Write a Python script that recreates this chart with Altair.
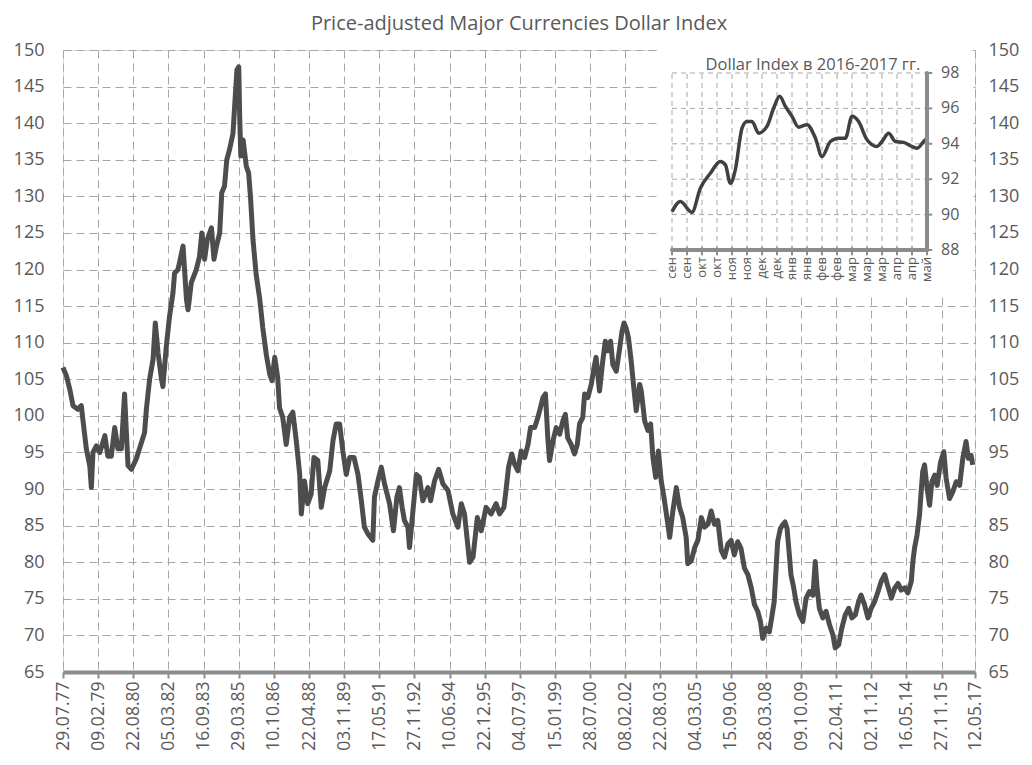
import altair as alt
import pandas as pd

# ---------------- data ----------------
title_text = "Price-adjusted Major Currencies Dollar Index"

years = [
    1977.57, 1977.72, 1977.87, 1978.01, 1978.22, 1978.37, 1978.44, 1978.59, 1978.74, 1978.81,
    1978.88, 1979.03, 1979.18, 1979.40, 1979.53, 1979.68, 1979.83, 1979.97, 1980.12, 1980.26,
    1980.34, 1980.41, 1980.56, 1980.77, 1980.91, 1981.13, 1981.21, 1981.35, 1981.50, 1981.60,
    1981.72, 1981.87, 1981.93, 1982.08, 1982.22, 1982.37, 1982.44, 1982.59, 1982.81, 1982.96,
    1983.03, 1983.17, 1983.39, 1983.53, 1983.63, 1983.75, 1983.87, 1984.05, 1984.16, 1984.27,
    1984.41, 1984.50, 1984.62, 1984.72, 1984.84, 1984.99, 1985.06, 1985.16, 1985.24, 1985.28,
    1985.33, 1985.43, 1985.57, 1985.67, 1985.75, 1985.86,
    1986.00, 1986.15, 1986.29, 1986.44, 1986.59, 1986.69, 1986.81, 1986.94, 1987.02, 1987.16,
    1987.31, 1987.46, 1987.60, 1987.75, 1987.90, 1987.97, 1988.11, 1988.25, 1988.40, 1988.52,
    1988.69, 1988.84, 1988.99, 1989.21, 1989.35, 1989.49, 1989.64, 1989.78, 1989.93, 1990.08,
    1990.27, 1990.44, 1990.59, 1990.72, 1990.87, 1991.09, 1991.16, 1991.31, 1991.46, 1991.60,
    1991.82, 1991.99, 1992.14, 1992.25, 1992.37, 1992.47, 1992.62, 1992.69, 1992.84, 1992.99,
    1993.12, 1993.27, 1993.49, 1993.61, 1993.78, 1993.96, 1994.15, 1994.37, 1994.58, 1994.80,
    1994.95, 1995.09, 1995.21, 1995.31, 1995.46, 1995.65, 1995.82, 1996.03, 1996.25,
    1996.47, 1996.62, 1996.81, 1996.90, 1997.01, 1997.15, 1997.27, 1997.42, 1997.56, 1997.71,
    1997.86, 1997.97, 1998.15, 1998.29, 1998.40, 1998.51, 1998.62, 1998.73, 1998.80, 1998.95,
    1999.09, 1999.24, 1999.38, 1999.49, 1999.59, 1999.74, 1999.89, 2000.01, 2000.11, 2000.25,
    2000.33, 2000.47, 2000.62, 2000.74, 2000.83, 2000.98, 2001.12, 2001.23, 2001.34, 2001.46,
    2001.56, 2001.71, 2001.86, 2001.96, 2002.05, 2002.14, 2002.24, 2002.36, 2002.46, 2002.58,
    2002.73, 2002.80, 2002.95, 2003.09, 2003.21, 2003.31, 2003.43, 2003.55, 2003.67, 2003.79,
    2003.96, 2004.04, 2004.18, 2004.33, 2004.47, 2004.61, 2004.76, 2004.83, 2004.98, 2005.13,
    2005.27, 2005.42, 2005.56, 2005.71, 2005.85, 2005.99, 2006.14, 2006.29, 2006.43, 2006.58,
    2006.72, 2006.86, 2007.01, 2007.15, 2007.30, 2007.45, 2007.60, 2007.74, 2007.88, 2008.00,
    2008.10, 2008.25, 2008.39, 2008.49, 2008.60, 2008.75, 2008.87, 2008.97, 2009.07, 2009.16,
    2009.26, 2009.33, 2009.45, 2009.55, 2009.70, 2009.85, 2009.99, 2010.14, 2010.29, 2010.39,
    2010.47, 2010.57, 2010.72, 2010.86, 2011.01, 2011.16, 2011.26, 2011.41, 2011.55, 2011.70,
    2011.85, 2011.99, 2012.14, 2012.28, 2012.39, 2012.54, 2012.69, 2012.83, 2012.98, 2013.13,
    2013.27, 2013.42, 2013.54, 2013.71, 2013.86, 2014.00, 2014.14, 2014.29, 2014.43, 2014.58,
    2014.65, 2014.72, 2014.83, 2014.94, 2015.01, 2015.08, 2015.16, 2015.27, 2015.38, 2015.48,
    2015.60, 2015.71, 2015.86, 2016.00, 2016.10, 2016.25, 2016.39, 2016.54, 2016.69, 2016.83,
    2016.97, 2017.07, 2017.19, 2017.26,
]

index_values = [
    106.6, 105.5, 103.6, 101.4, 100.9, 101.4, 99.5, 95.5, 93.2, 90.2,
    95.0, 95.9, 95.0, 97.3, 94.5, 94.5, 98.4, 95.5, 95.5, 103.0,
    97.7, 93.2, 92.7, 94.1, 95.5, 97.7, 100.9, 105.0, 107.7, 112.7,
    108.6, 105.0, 104.0, 109.5, 113.6, 116.8, 119.5, 120.0, 123.2, 115.9,
    114.5, 118.2, 120.0, 121.8, 125.0, 121.4, 124.1, 125.7, 121.4, 123.2,
    125.0, 130.5, 131.4, 135.0, 136.4, 138.6, 142.3, 147.3, 147.7, 140.9,
    135.5, 137.7, 134.1, 133.2, 130.0, 124.1,
    119.3, 116.1, 112.0, 108.4, 105.7, 104.8, 108.0, 105.2, 101.1, 99.8,
    96.1, 99.8, 100.5, 96.6, 92.0, 86.6, 91.1, 88.0, 89.3, 94.3,
    93.9, 87.5, 90.2, 92.5, 96.6, 98.9, 98.9, 95.2, 92.0, 94.3,
    94.3, 92.0, 88.4, 84.8, 83.9, 83.0, 88.9, 91.1, 93.0, 90.7,
    88.0, 84.3, 88.9, 90.2, 87.5, 85.7, 84.8, 82.0, 87.0, 92.0,
    91.6, 88.4, 90.2, 88.4, 91.1, 92.7, 90.7, 89.8, 86.6, 84.8,
    88.0, 86.6, 83.0, 80.0, 80.7, 86.1, 84.3, 87.5, 86.6,
    88.0, 86.6, 87.5, 89.8, 93.0, 94.8, 93.4, 92.5, 95.2, 94.3,
    96.1, 98.4, 98.4, 99.8, 101.1, 102.5, 103.0, 96.6, 93.9, 96.6,
    98.4, 97.5, 99.3, 100.2, 97.0, 96.1, 94.8, 96.1, 98.9, 99.8,
    103.0, 102.5, 104.3, 106.6, 108.0, 103.4, 107.5, 110.2, 108.9, 110.2,
    107.0, 106.1, 109.3, 111.6, 112.7, 112.0, 110.7, 107.5, 104.3, 100.7,
    104.3, 103.4, 99.3, 98.0, 98.9, 94.3, 91.6, 95.2, 91.1, 88.9,
    85.2, 83.4, 87.0, 90.2, 87.5, 86.1, 83.4, 79.8, 80.2, 82.0,
    83.0, 86.1, 84.8, 85.2, 87.0, 85.2, 85.7, 81.6, 80.7, 82.5,
    83.0, 81.0, 82.8, 81.9, 79.2, 78.3, 76.5, 74.2, 73.3, 71.9,
    69.6, 71.0, 70.5, 72.4, 74.6, 82.8, 84.6, 85.1, 85.5, 84.6,
    81.0, 78.3, 76.5, 74.6, 72.8, 71.9, 75.1, 76.0, 75.5, 80.1,
    76.5, 73.7, 72.4, 73.3, 71.5, 70.1, 68.3, 68.7, 71.0, 72.8,
    73.7, 72.4, 72.8, 74.6, 75.5, 74.2, 72.4, 73.7, 74.6, 76.0,
    77.4, 78.3, 76.9, 75.1, 76.5, 77.1, 76.2, 76.5, 75.8, 77.4,
    80.1, 81.9, 83.7, 86.5, 89.6, 92.4, 93.3, 90.1, 87.8, 91.0,
    91.9, 90.5, 93.7, 95.1, 91.5, 88.7, 89.6, 91.0, 90.5, 94.2,
    96.5, 94.2, 94.6, 93.3,
]

tick_labels = [
    "29.07.77", "09.02.79", "22.08.80", "05.03.82", "16.09.83", "29.03.85", "10.10.86",
    "22.04.88", "03.11.89", "17.05.91", "27.11.92", "10.06.94", "22.12.95", "04.07.97",
    "15.01.99", "28.07.00", "08.02.02", "22.08.03", "04.03.05", "15.09.06", "28.03.08",
    "09.10.09", "22.04.11", "02.11.12", "16.05.14", "27.11.15", "12.05.17",
]
y_ticks = list(range(65, 151, 5))

inset_title = "Dollar Index в 2016-2017 гг."
inset_labels = ["сен", "сен", "окт", "окт", "ноя", "ноя", "дек", "дек", "янв", "янв",
                "фев", "фев", "мар", "мар", "мар", "апр", "апр", "май"]
inset_pos = [0, 0.56, 1.33, 1.89, 2.56, 3.22, 3.56, 3.89, 4.22, 4.67, 5.0, 5.33, 5.78,
             6.33, 6.78, 7.18, 7.56, 8.0, 8.44, 9.0, 9.56, 10.0, 10.56, 11.11, 11.56,
             12.0, 12.44, 13.0, 13.67, 14.0, 14.44, 14.89, 15.44, 15.89, 16.33, 16.78, 17.0]
inset_vals = [90.17, 90.74, 90.13, 91.49, 92.34, 93.0, 92.81, 91.77, 92.53, 94.89, 95.26,
              95.26, 94.6, 94.98, 96.02, 96.68, 96.11, 95.55, 94.94, 95.08, 94.32, 93.28,
              94.13, 94.32, 94.32, 95.55, 95.26, 94.23, 93.85, 94.13, 94.6, 94.13, 94.08,
              93.89, 93.75, 94.13, 94.32]
inset_y_ticks = [88, 90, 92, 94, 96, 98]

# ---------------- build tables ----------------
def yr_to_ts(y):
    yi = int(y)
    return pd.Timestamp(yi, 1, 1) + pd.Timedelta(days=(y - yi) * 365.25)

main_df = pd.DataFrame({"date": [yr_to_ts(y) for y in years], "value": index_values})

def parse_label(s):
    d, m, yy = (int(p) for p in s.split("."))
    return alt.DateTime(year=(1900 + yy if yy > 50 else 2000 + yy), month=m, date=d)

tick_dt = [parse_label(s) for s in tick_labels]

n_lab = len(inset_labels)
inset_df = pd.DataFrame({"i": inset_pos, "v": inset_vals})
xlab_df = pd.DataFrame({"i": list(range(n_lab)), "lab": inset_labels})
ylab_df = pd.DataFrame({"v": inset_y_ticks, "lab": [str(v) for v in inset_y_ticks]})
hgrid_df = pd.DataFrame({"v": inset_y_ticks[1:]})
one = pd.DataFrame({"a": [0]})

FONT = "Open Sans"
TXT = "#595959"
AXC = "#8c8c8c"
GRID = "#a6a6a6"

W, H = 912, 622

x_scale = alt.Scale(domain=[tick_dt[0], tick_dt[-1]], nice=False)
y_scale = alt.Scale(domain=[65, 150], nice=False, zero=False)

x_axis = alt.Axis(
    values=tick_dt, labelExpr="timeFormat(datum.value, '%d.%m.%y')",
    labelAngle=270, labelAlign="right", labelBaseline="middle",
    labelFont=FONT, labelFontSize=17.5, labelColor=TXT, labelPadding=3,
    labelFlush=False, labelOverlap=False,
    tickSize=6, tickWidth=2, tickColor=AXC,
    domainColor=AXC, domainWidth=4,
    grid=True, gridDash=[8, 5], gridColor=GRID, gridWidth=1, title=None,
)
y_axis_left = alt.Axis(
    values=y_ticks, orient="left", domain=False, ticks=False, tickSize=0,
    labelPadding=19, labelFont=FONT, labelFontSize=18, labelColor=TXT,
    grid=True, gridDash=[8, 5], gridColor=GRID, gridWidth=1, title=None,
)
y_axis_right = alt.Axis(
    values=y_ticks, orient="right", domain=False, ticks=False, tickSize=0,
    labelPadding=13, labelFont=FONT, labelFontSize=18, labelColor=TXT,
    grid=False, title=None,
)

main_line = alt.Chart(main_df).mark_line(
    color="#4d4d4d", strokeWidth=5, strokeJoin="round"
).encode(
    x=alt.X("date:T", scale=x_scale, axis=x_axis),
    y=alt.Y("value:Q", scale=y_scale, axis=y_axis_left),
)

right_axis_layer = alt.Chart(main_df).mark_line(opacity=0).encode(
    x=alt.X("date:T", scale=x_scale, axis=None),
    y=alt.Y("value:Q", scale=y_scale, axis=y_axis_right),
)

# ---------------- inset ----------------
ix = alt.Scale(domain=[0, n_lab - 1], range=[609, 864], nice=False, zero=False)
iy = alt.Scale(domain=[88, 98], range=[200, 23], nice=False, zero=False)

def IX(d):
    return alt.X(datum=d, type="quantitative", scale=ix, axis=None)

def IY(d):
    return alt.Y(datum=d, type="quantitative", scale=iy, axis=None)

backdrop = alt.Chart(one).mark_rect(color="white").encode(
    x=alt.value(594), x2=alt.value(908), y=alt.value(-4), y2=alt.value(247)
)

vgrid = alt.Chart(xlab_df).mark_rule(color=GRID, strokeDash=[5, 4], strokeWidth=1).encode(
    x=alt.X("i:Q", scale=ix, axis=None), y=IY(88), y2=alt.Y2(datum=98),
)
hgrid = alt.Chart(hgrid_df).mark_rule(color=GRID, strokeDash=[5, 4], strokeWidth=1).encode(
    y=alt.Y("v:Q", scale=iy, axis=None), x=IX(0), x2=alt.X2(datum=n_lab - 1),
)
# inset axes (lines, ticks, labels) drawn from the tick lists through the inset scales
x_dom = alt.Chart(one).mark_rule(color=AXC, strokeWidth=4, strokeCap="round").encode(
    y=IY(88), x=IX(0), x2=alt.X2(datum=n_lab - 1),
)
y_dom = alt.Chart(one).mark_rule(color=AXC, strokeWidth=4, strokeCap="round").encode(
    x=IX(n_lab - 1), y=IY(88), y2=alt.Y2(datum=98),
)
x_ticks = alt.Chart(xlab_df).mark_rule(color=AXC, strokeWidth=2).encode(
    x=alt.X("i:Q", scale=ix, axis=None), y=IY(88.15), y2=alt.Y2(datum=87.7),
)
y_ticks_m = alt.Chart(ylab_df).mark_rule(color=AXC, strokeWidth=2).encode(
    y=alt.Y("v:Q", scale=iy, axis=None), x=IX(n_lab - 1), x2=alt.X2(datum=n_lab - 0.65),
)
x_labs = alt.Chart(xlab_df).mark_text(
    font=FONT, fontSize=13, color=TXT, angle=270, align="right", baseline="middle", dx=-7,
).encode(
    x=alt.X("i:Q", scale=ix, axis=None), y=IY(88), text="lab:N",
)
y_labs = alt.Chart(ylab_df).mark_text(
    font=FONT, fontSize=16, color=TXT, align="left", baseline="middle", dx=14,
).encode(
    y=alt.Y("v:Q", scale=iy, axis=None), x=IX(n_lab - 1), text="lab:N",
)
inset_line = alt.Chart(inset_df).mark_line(
    color="#404040", strokeWidth=3.5, interpolate="monotone"
).encode(
    x=alt.X("i:Q", scale=ix, axis=None),
    y=alt.Y("v:Q", scale=iy, axis=None),
)
inset_text = alt.Chart(one).mark_text(
    text=inset_title, font=FONT, fontSize=16.5, color=TXT,
    align="center", baseline="alphabetic", dy=-3,
).encode(x=IX(9.4), y=IY(98))

inset = alt.layer(backdrop, vgrid, hgrid, inset_line, x_dom, y_dom, x_ticks, y_ticks_m,
                  x_labs, y_labs, inset_text)

chart = alt.layer(main_line, right_axis_layer, inset).resolve_scale(
    x="independent", y="independent"
).properties(
    width=W, height=H,
    title=alt.TitleParams(
        text=title_text, font=FONT, fontSize=20, fontWeight="normal",
        color=TXT, anchor="middle", offset=7,
    ),
    autosize=alt.AutoSizeParams(type="none"),
    padding={"left": 55, "top": 42, "right": 49, "bottom": 81},
).configure_view(stroke=None).configure(background="white")

chart.save("out.html", embed_options={"renderer": "svg", "actions": False})
